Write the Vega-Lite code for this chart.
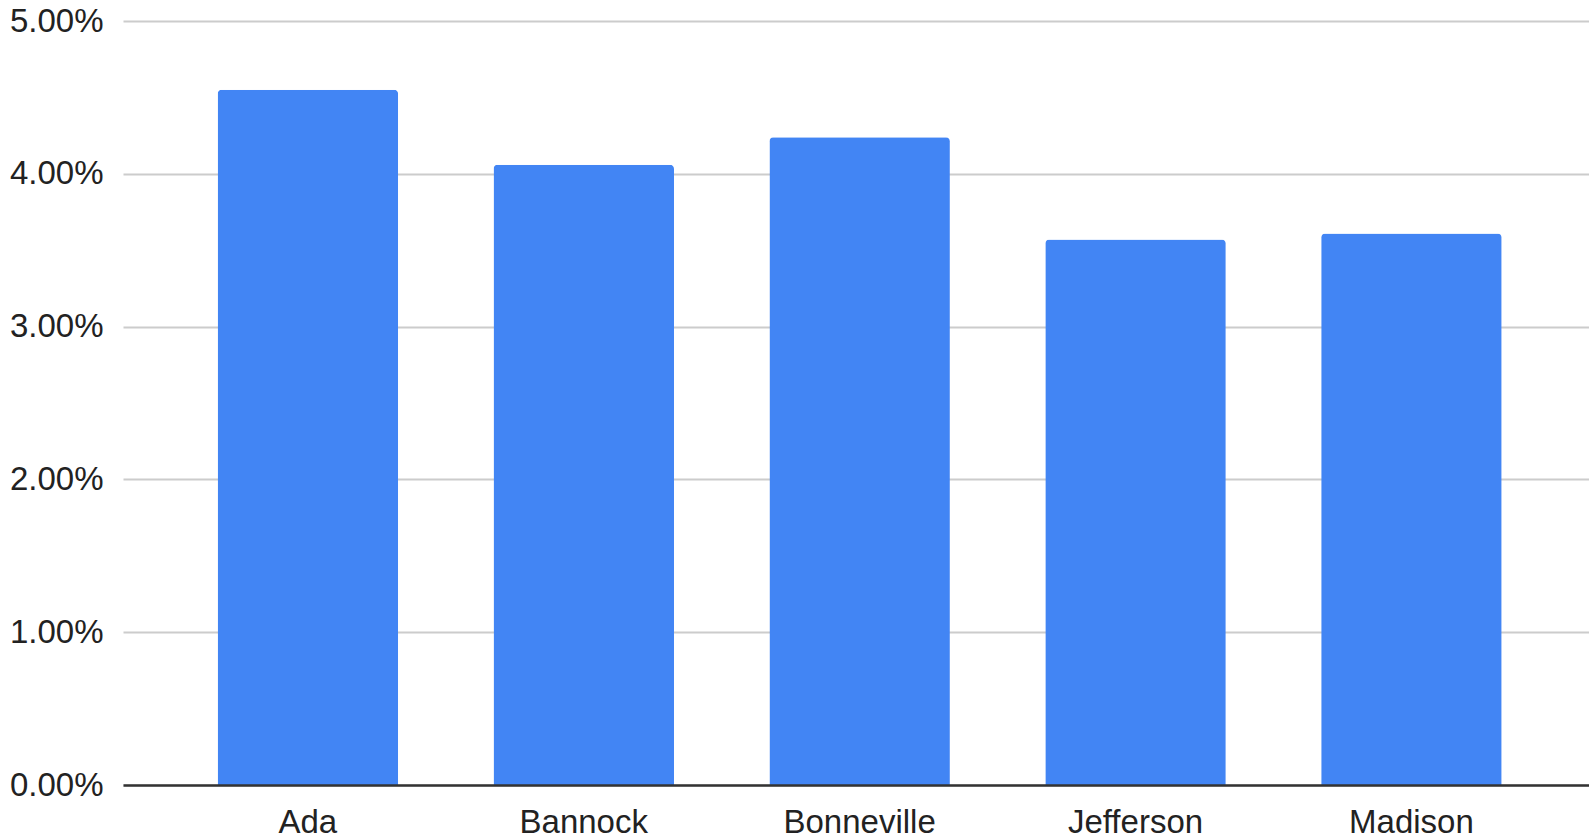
{
  "$schema": "https://vega.github.io/schema/vega-lite/v6.json",
  "width": 1466,
  "height": 764,
  "autosize": {"type": "none"},
  "padding": {"left": 123, "top": 21, "right": 0, "bottom": 55},
  "background": "#ffffff",
  "data": {
    "values": [
      {"county": "Ada", "rate": 0.0455},
      {"county": "Bannock", "rate": 0.0406},
      {"county": "Bonneville", "rate": 0.0424},
      {"county": "Jefferson", "rate": 0.0357},
      {"county": "Madison", "rate": 0.0361}
    ]
  },
  "mark": {"type": "bar", "color": "#4285F4", "cornerRadiusTopLeft": 4, "cornerRadiusTopRight": 4},
  "encoding": {
    "x": {
      "field": "county",
      "type": "nominal",
      "sort": null,
      "scale": {"paddingInner": 0.3458, "paddingOuter": 0.3298, "align": 0.52},
      "axis": {
        "title": null,
        "labelAngle": 0,
        "labelFont": "Liberation Sans",
        "labelFontSize": 33,
        "labelColor": "#222222",
        "labelPadding": 21,
        "ticks": false,
        "domain": true,
        "domainColor": "#333333",
        "domainWidth": 2.5,
        "grid": false,
        "zindex": 1
      }
    },
    "y": {
      "field": "rate",
      "type": "quantitative",
      "scale": {"domain": [0, 0.05], "nice": false, "zero": true},
      "axis": {
        "title": null,
        "values": [0, 0.01, 0.02, 0.03, 0.04, 0.05],
        "format": ".2%",
        "labelFont": "Liberation Sans",
        "labelFontSize": 33,
        "labelColor": "#222222",
        "labelPadding": 20,
        "ticks": false,
        "domain": false,
        "grid": true,
        "gridColor": "#cccccc",
        "gridWidth": 2,
        "zindex": 0
      }
    }
  },
  "config": {"view": {"stroke": null}}
}
